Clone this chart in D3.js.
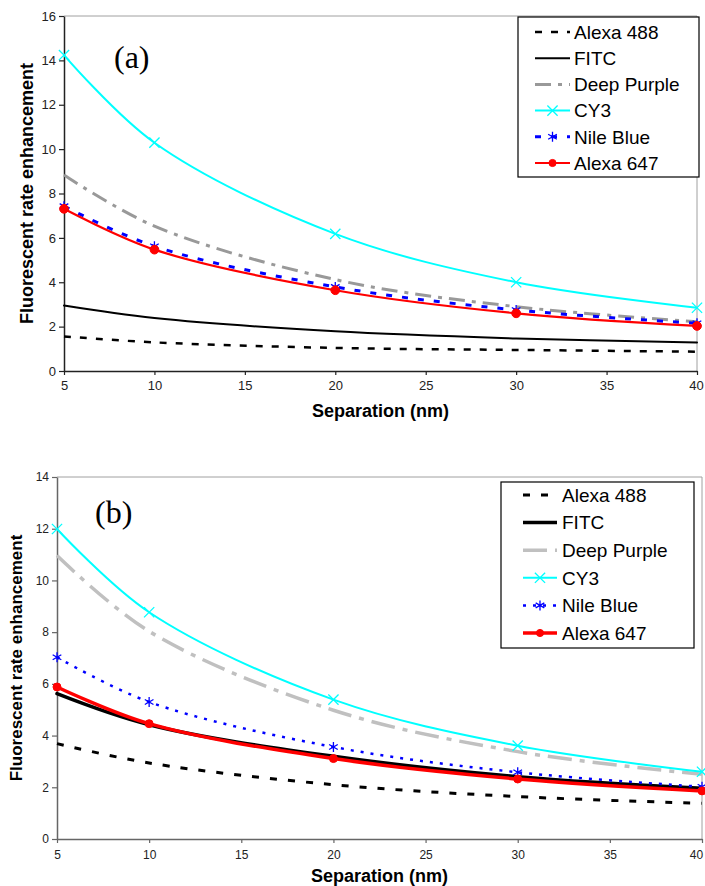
<!DOCTYPE html>
<html>
<head>
<meta charset="utf-8">
<script src="https://cdn.jsdelivr.net/npm/d3@7"></script>
<style>
  body { margin: 0; background: #fff; }
  svg { display: block; }
</style>
</head>
<body>
<svg id="chart" width="705" height="886" font-family="'Liberation Sans', Arial, sans-serif"></svg>
<script>
// separation distances (nm) where the values are given
const separation = [5, 10, 20, 30, 40];
const dyes = ['Alexa 488', 'FITC', 'Deep Purple', 'CY3', 'Nile Blue', 'Alexa 647'];
const xTickLabels = [5, 10, 15, 20, 25, 30, 35, 40];
const yTickLabelsA = [0, 2, 4, 6, 8, 10, 12, 14, 16];
const yTickLabelsB = [0, 2, 4, 6, 8, 10, 12, 14];

// panel (a)
const alexa488A = [1.56, 1.29, 1.04, 0.95, 0.87];
const fitcA = [2.95, 2.39, 1.79, 1.47, 1.28];
const deepPurpleA = [8.83, 6.53, 4.12, 2.90, 2.22];
const cy3A = [14.24, 10.29, 6.18, 4.00, 2.85];
const nileBlueA = [7.43, 5.62, 3.79, 2.75, 2.15];
const alexa647A = [7.31, 5.47, 3.64, 2.60, 2.03];

// panel (b)
const alexa488B = [3.69, 2.94, 2.10, 1.64, 1.38];
const fitcB = [5.62, 4.42, 3.20, 2.41, 1.96];
const deepPurpleB = [10.96, 8.03, 4.98, 3.38, 2.50];
const cy3B = [11.99, 8.77, 5.39, 3.61, 2.60];
const nileBlueB = [7.03, 5.30, 3.56, 2.58, 2.02];
const alexa647B = [5.88, 4.46, 3.11, 2.32, 1.86];

// line looks, one entry per dye (same order as dyes)
const stylesA = [
    {color: '#000', width: 2.5, dash: '7,9', marker: null},
    {color: '#000', width: 2, dash: null, marker: null},
    {color: '#999', width: 3, dash: '16,7,4,7', marker: null},
    {color: '#00ffff', width: 2, dash: null, marker: d3.symbolTimes},
    {color: '#0000ff', width: 3, dash: '6,10', marker: d3.symbolAsterisk},
    {color: '#ff0000', width: 2.2, dash: null, marker: d3.symbolCircle}
];
const stylesB = [
    {color: '#000', width: 3, dash: '7,11', marker: null},
    {color: '#000', width: 3.5, dash: null, marker: null},
    {color: '#c0c0c0', width: 3.5, dash: '24,8,5,8', marker: null},
    {color: '#00ffff', width: 2, dash: null, marker: d3.symbolTimes},
    {color: '#0000ff', width: 2.5, dash: '3,7', marker: d3.symbolAsterisk},
    {color: '#ff0000', width: 3.5, dash: null, marker: d3.symbolCircle}
];

const svg = d3.select('#chart');

function drawMarker(g, style, x, y, size) {
    if (!style.marker) return;
    const filled = style.marker === d3.symbolCircle;
    g.append('path')
        .attr('transform', 'translate(' + x + ',' + y + ')')
        .attr('d', d3.symbol().type(style.marker).size(filled ? size : 70)())
        .attr('fill', filled ? style.color : 'none')
        .attr('stroke', style.color)
        .attr('stroke-width', filled ? 1 : 1.3);
}

function drawPanel(p) {
    const g = svg.append('g');
    const x = d3.scaleLinear().domain([5, 40]).range([p.left, p.right]);
    const y = d3.scaleLinear().domain([0, p.yMax]).range([p.bottom, p.top]);

    // top and right frame
    g.append('path')
        .attr('d', 'M' + p.left + ',' + p.top + 'H' + p.right + 'V' + p.bottom)
        .attr('fill', 'none')
        .attr('stroke', '#a0a0a0')
        .attr('stroke-width', 1);

    const xAxis = g.append('g')
        .attr('transform', 'translate(0,' + p.bottom + ')')
        .call(d3.axisBottom(x).tickValues(xTickLabels).tickSize(4).tickSizeOuter(0));
    const yAxis = g.append('g')
        .attr('transform', 'translate(' + p.left + ',0)')
        .call(d3.axisLeft(y).tickValues(p.yTicks).tickSize(5).tickSizeOuter(0));
    [xAxis, yAxis].forEach(function(a) {
        a.attr('font-family', null);
        a.select('.domain').attr('stroke', p.axisColor).attr('stroke-width', 1.5);
        a.selectAll('.tick line').attr('stroke', p.axisColor).attr('stroke-width', 1.2);
        a.selectAll('.tick text')
            .attr('font-size', p.tickFont)
            .attr('fill', '#222');
    });
    xAxis.selectAll('.tick text').attr('dy', p.xTickDy);
    // keep the last label inside the page
    xAxis.selectAll('.tick text').filter(function(d) { return d === 40; })
        .attr('x', p.lastTickShift);

    // curves
    const line = d3.line()
        .x(function(d) { return x(d[0]); })
        .y(function(d) { return y(d[1]); })
        .curve(d3.curveCatmullRom.alpha(0.5));

    p.series.forEach(function(vals, i) {
        const st = p.styles[i];
        const pts = separation.map(function(s, j) { return [s, vals[j]]; });
        g.append('path')
            .datum(pts)
            .attr('d', line)
            .attr('fill', 'none')
            .attr('stroke', st.color)
            .attr('stroke-width', st.width)
            .attr('stroke-dasharray', st.dash)
            .attr('stroke-linecap', st.dash ? 'butt' : 'round');
        pts.forEach(function(d) {
            drawMarker(g, st, x(d[0]), y(d[1]), p.dotSize);
        });
    });

    // axis titles
    g.append('text')
        .attr('x', (p.left + p.right) / 2)
        .attr('y', p.xTitleY)
        .attr('text-anchor', 'middle')
        .attr('font-size', 18)
        .attr('font-weight', 'bold')
        .text('Separation (nm)');
    g.append('text')
        .attr('transform', 'translate(' + p.yTitleX + ',' + (p.top + p.bottom) / 2 + ') rotate(-90)')
        .attr('text-anchor', 'middle')
        .attr('font-size', p.yTitleFont)
        .attr('font-weight', 'bold')
        .text('Fluorescent rate enhancement');

    // panel letter
    g.append('text')
        .attr('x', p.letterX)
        .attr('y', p.letterY)
        .attr('font-family', '"Liberation Serif", "Times New Roman", serif')
        .attr('font-size', 32)
        .text(p.letter);

    // legend
    const lg = g.append('g');
    lg.append('rect')
        .attr('x', p.legend.x)
        .attr('y', p.legend.y)
        .attr('width', p.legend.w)
        .attr('height', p.legend.h)
        .attr('fill', '#fff')
        .attr('stroke', '#000')
        .attr('stroke-width', 1.2);
    dyes.forEach(function(name, i) {
        const st = p.styles[i];
        const ly = p.legend.row0 + i * p.legend.rowGap;
        lg.append('line')
            .attr('x1', p.legend.sx0)
            .attr('x2', p.legend.sx1)
            .attr('y1', ly)
            .attr('y2', ly)
            .attr('stroke', st.color)
            .attr('stroke-width', st.width)
            .attr('stroke-dasharray', st.dash);
        drawMarker(lg, st, (p.legend.sx0 + p.legend.sx1) / 2, ly, 40);
        lg.append('text')
            .attr('x', p.legend.tx)
            .attr('y', ly)
            .attr('dy', '0.36em')
            .attr('font-size', 19)
            .attr('fill', '#000')
            .text(name);
    });
}

drawPanel({
    left: 64, right: 697, top: 16, bottom: 371, yMax: 16,
    yTicks: yTickLabelsA, axisColor: '#222', tickFont: 13, xTickDy: '0.95em', lastTickShift: -1,
    series: [alexa488A, fitcA, deepPurpleA, cy3A, nileBlueA, alexa647A],
    styles: stylesA, dotSize: 60,
    xTitleY: 417, yTitleX: 33, yTitleFont: 18,
    letter: '(a)', letterX: 114, letterY: 68,
    legend: {x: 518, y: 17, w: 181, h: 160, row0: 32, rowGap: 26.2, sx0: 535, sx1: 570, tx: 574}
});

drawPanel({
    left: 57, right: 702, top: 477, bottom: 839, yMax: 14,
    yTicks: yTickLabelsB, axisColor: '#666', tickFont: 12, xTickDy: '1.1em', lastTickShift: -6,
    series: [alexa488B, fitcB, deepPurpleB, cy3B, nileBlueB, alexa647B],
    styles: stylesB, dotSize: 50,
    xTitleY: 882, yTitleX: 22, yTitleFont: 17,
    letter: '(b)', letterX: 95, letterY: 523,
    legend: {x: 501, y: 482, w: 193, h: 166, row0: 495, rowGap: 27.6, sx0: 523, sx1: 557, tx: 562}
});
</script>
</body>
</html>
